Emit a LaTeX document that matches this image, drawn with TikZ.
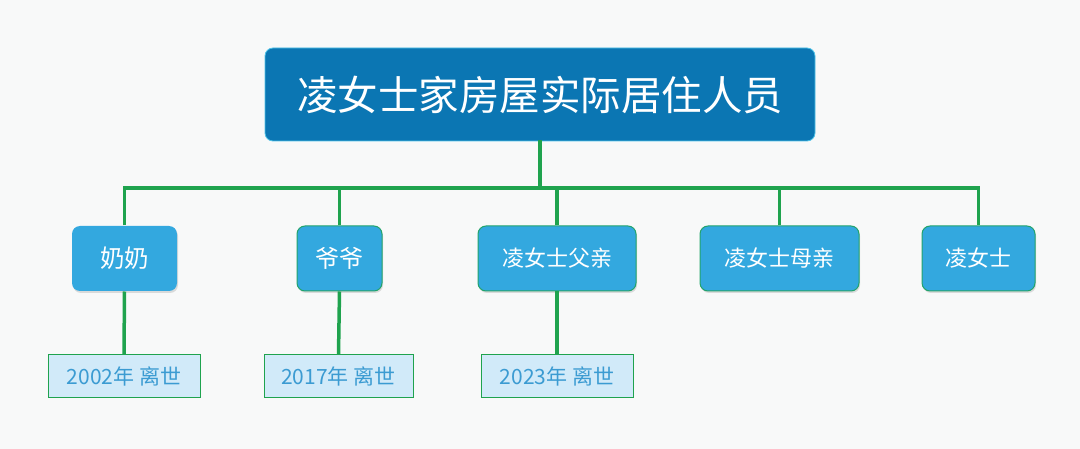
\documentclass[tikz,border=0pt]{standalone}
\usepackage{fontspec}
\setmainfont{Noto Sans CJK SC}
\usetikzlibrary{shadows}
\definecolor{bg}{HTML}{F8F9F9}
\definecolor{rootblue}{HTML}{0B76B3}
\definecolor{childblue}{HTML}{33A8DF}
\definecolor{leafblue}{HTML}{D1EAF9}
\definecolor{leaftext}{HTML}{3B9BD2}
\definecolor{linegreen}{HTML}{1FA34E}
\definecolor{rootedge}{HTML}{4FC3E8}
\tikzset{
  rootbox/.style={draw=rootedge, line width=0.8pt, fill=rootblue, rounded corners=8pt, text=white,
    minimum width=550pt, minimum height=93pt, inner sep=0pt, font=\fontsize{40.5}{44}\selectfont},
  childbox/.style={draw=linegreen!80!childblue, line width=1pt, fill=childblue, rounded corners=8pt, text=white,
    minimum height=65pt, inner sep=0pt, font=\fontsize{22}{25}\selectfont,
    drop shadow={shadow xshift=1pt, shadow yshift=-2pt, opacity=0.25}},
  leafbox/.style={draw=linegreen, line width=1pt, fill=leafblue, text=leaftext,
    minimum height=42pt, inner sep=0pt, font=\fontsize{21}{24}\selectfont},
  conn/.style={draw=linegreen, line width=3.5pt},
  x=1pt, y=-1pt
}
\begin{document}
\begin{tikzpicture}
\fill[bg] (0,0) rectangle (1080,449);
\useasboundingbox (0,0) rectangle (1080,449);
\node[rootbox] (root) at (540,94.5) {凌女士家房屋实际居住人员};
\node[childbox, minimum width=105pt, draw=none, font=\fontsize{24.5}{27}\selectfont] (c1) at (124.5,258.5) {奶奶};
\node[childbox, minimum width=85pt, font=\fontsize{24}{27}\selectfont] (c2) at (339.5,258.5) {爷爷};
\node[childbox, minimum width=158pt] (c3) at (557,258.5) {凌女士父亲};
\node[childbox, minimum width=159pt] (c4) at (779.5,258.5) {凌女士母亲};
\node[childbox, minimum width=113pt] (c5) at (978.5,258.5) {凌女士};
\node[leafbox, minimum width=152pt] (l1) at (124,376) {2002年 离世};
\node[leafbox, minimum width=149pt] (l2) at (338.5,376) {2017年 离世};
\node[leafbox, minimum width=152pt] (l3) at (557,376) {2023年 离世};
\coordinate (bus) at (540,188);
\path[conn, line cap=rect] (root.south) -- (bus);
\path[conn] (c1.north) -- (c1.north |- bus) -- (c5.north |- bus) -- (c5.north);
\path[conn] (c2.north) -- (c2.north |- bus);
\path[conn] (c3.north) -- (c3.north |- bus);
\path[conn] (c4.north) -- (c4.north |- bus);
\path[conn] (c1.south) -- (l1.north);
\path[conn] (c2.south) -- (l2.north);
\path[conn] (c3.south) -- (l3.north);
\end{tikzpicture}
\end{document}
